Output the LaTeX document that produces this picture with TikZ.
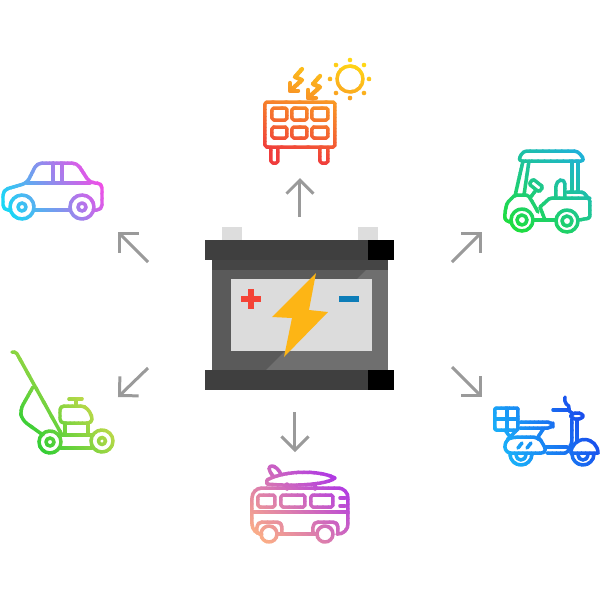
\documentclass[tikz,border=0pt]{standalone}
\usetikzlibrary{arrows.meta}
\definecolor{arrowgrey}{HTML}{9A9A9A}
\definecolor{cellgrey}{HTML}{DCDCDC}
\definecolor{postgrey}{HTML}{DDDDDD}
\definecolor{bardark}{HTML}{3F3F3F}
\definecolor{banddark}{HTML}{454545}
\definecolor{bodydark}{HTML}{5A5A5A}
\definecolor{bodylight}{HTML}{6F6F6F}
\definecolor{boltgold}{HTML}{FDB515}
\definecolor{plusred}{HTML}{F44336}
\definecolor{minusblue}{HTML}{0D7DB8}
\definecolor{solarA}{RGB}{255,215,20}
\definecolor{solarB}{RGB}{240,60,60}
\definecolor{carA}{RGB}{245,75,230}
\definecolor{carB}{RGB}{25,215,245}
\definecolor{cartA}{RGB}{30,175,225}
\definecolor{cartB}{RGB}{30,225,50}
\definecolor{mowerA}{RGB}{235,220,80}
\definecolor{mowerB}{RGB}{35,205,50}
\definecolor{scootA}{RGB}{25,60,235}
\definecolor{scootB}{RGB}{25,190,250}
\definecolor{busA}{RGB}{165,40,240}
\definecolor{busB}{RGB}{255,180,130}
\tikzset{
  px/.style={x=0.02cm,y=-0.02cm},
  ico/.style={draw=icocol,line width=0.7mm,line cap=round,line join=round,rounded corners=0.35mm},
  sharpico/.style={ico,rounded corners=0pt},
  dotfill/.style={fill=icocol,draw=none},
  flow/.style={draw=arrowgrey,line width=0.6mm,-{Straight Barb[length=2.7mm,width=5.4mm,line width=0.6mm]}}
}
% #1 drawing, #2 cx, #3 cy, #4 angle, #5 half span, #6 colour at start, #7 colour at end
\newcommand{\gradicon}[7]{%
  \foreach \bandno in {0,...,31}{%
    \pgfmathsetmacro{\bandtop}{#3-#5+\bandno*2*#5/32}%
    \pgfmathsetmacro{\bandbot}{\bandtop+2*#5/32+0.6}%
    \ifnum\bandno=0 \pgfmathsetmacro{\bandtop}{#3-#5-150}\fi
    \ifnum\bandno=31 \pgfmathsetmacro{\bandbot}{#3+#5+150}\fi
    \pgfmathsetmacro{\bandmix}{100-\bandno*100/31}%
    \colorlet{icocol}{#6!\bandmix!#7}%
    \begin{scope}
      \clip[rotate around={#4:(#2,#3)}] (#2-200,\bandtop) rectangle (#2+200,\bandbot);
      #1%
    \end{scope}
  }%
}
\newcommand{\solaricon}{%
\draw[ico] (265,102) rectangle (335,147);
\foreach \xa/\xb in {272/287,292/307,312/328}{
  \draw[ico] (\xa,108) rectangle (\xb,120);
  \draw[ico] (\xa,127) rectangle (\xb,138);
}
\draw[ico] (271,147) -- (271,163) -- (278,163) -- (278,147);
\draw[ico] (320,147) -- (320,163) -- (328,163) -- (328,147);
\draw[sharpico] (350,79) circle [radius=13];
\foreach \dx/\dy in {0/-19,14/-14,19/0,14/14,0/19,-14/14,-20/0,-14/-14}
  \fill[dotfill] (350+\dx,79+\dy) circle [radius=2.3];
\foreach \ox/\oy in {0/0,18/7}{
  \draw[sharpico,line width=0.85mm] (302+\ox,69+\oy) -- (295+\ox,77+\oy) -- (302+\ox,80+\oy) -- (291+\ox,90+\oy);
  \draw[sharpico,line width=0.85mm] (290+\ox,83+\oy) -- (290+\ox,91+\oy) -- (298+\ox,91+\oy);
}}
\newcommand{\caricon}{%
\draw[ico,rounded corners=1mm] (10,210) -- (3,210) -- (3,190) -- (27,183) -- (37,163) -- (77,163) -- (90,183) -- (102,183) -- (102,210) -- (94,210);
\draw[ico] (34,210) -- (70,210);
\draw[ico] (27,183) -- (90,183);
\draw[ico] (53,163) -- (53,183);
\draw[ico] (62,163) -- (62,183);
\draw[sharpico] (22,207) circle [radius=12];
\draw[sharpico] (22,207) circle [radius=4];
\draw[sharpico] (82,207) circle [radius=12];
\draw[sharpico] (82,207) circle [radius=4];
}
\newcommand{\carticon}{%
\draw[ico,rounded corners=0.8mm] (518,161) -- (523,151) -- (578,151) -- (585,161) -- cycle;
\draw[ico] (523,161) -- (515,196);
\draw[ico] (529,161) -- (524,195);
\draw[ico] (572,161) -- (572,192);
\draw[ico] (578,161) -- (578,192);
\draw[ico,rounded corners=0.3mm] (533,179) -- (543,187) -- (539,192) -- (529,184) -- cycle;
\draw[ico] (536,190) -- (530,198);
\draw[ico,rounded corners=1mm] (556,198) -- (556,181) -- (565,179) -- (565,198);
\draw[ico] (567,192) -- (583,192) -- (590,200) -- (590,218) -- (579,220);
\draw[ico] (540,207) -- (550,198) -- (590,198);
\draw[ico] (538,212) -- (533,203) -- (528,195) -- (515,195) -- (507,203) -- (505,212) -- (505,220) -- (510,222);
\draw[ico] (534,220) -- (555,220);
\draw[ico] (540,207) -- (545,220);
\draw[sharpico] (522,220) circle [radius=11];
\draw[sharpico] (522,220) circle [radius=5];
\draw[sharpico] (567,221) circle [radius=11];
\draw[sharpico] (567,221) circle [radius=5];
}
\newcommand{\mowericon}{%
\draw[ico] (12,352) -- (16,352) -- (62,435);
\draw[ico,rounded corners=1.2mm] (33,387) -- (20,410) -- (22,420) -- (43,435);
\draw[ico] (62,435) -- (92,435);
\draw[ico] (61,448) -- (92,448);
\draw[ico,rounded corners=0.8mm] (60,423) -- (60,406) -- (85,406) -- (92,415) -- (92,423) -- cycle;
\draw[ico] (65,423) -- (65,435);
\draw[ico] (88,423) -- (88,435);
\draw[ico] (76,399) -- (76,406);
\draw[ico] (69,399) -- (82,399);
\draw[sharpico] (50,442) circle [radius=11];
\draw[sharpico] (50,442) circle [radius=4];
\draw[sharpico] (102,441) circle [radius=11];
\draw[sharpico] (102,441) circle [radius=3.5];
}
\newcommand{\scootericon}{%
\draw[ico,rounded corners=0.2mm] (495,408) rectangle (518,430);
\draw[ico] (507,408) -- (507,430);
\draw[ico] (495,419) -- (518,419);
\draw[ico] (505,430) -- (510,437) -- (517,430);
\draw[ico,rounded corners=1mm] (520,422) -- (553,422) -- (553,428) -- (520,428);
\draw[ico,rounded corners=1.2mm] (505,453) -- (505,440) -- (513,437) -- (538,437) -- (543,443) -- (547,453) -- cycle;
\draw[ico] (518,448) -- (522,443);
\draw[ico] (527,448) -- (531,443);
\draw[ico] (538,437) -- (544,428);
\draw[ico] (547,453) -- (567,453) -- (572,442) -- (572,419);
\draw[ico] (546,447) -- (567,447);
\draw[ico] (577,419) -- (577,441);
\draw[ico] (553,410) -- (568,410);
\draw[ico,rounded corners=0.8mm] (571,413) -- (583,413) -- (583,419) -- (571,419) -- cycle;
\draw[ico] (565,397) -- (565,403) -- (570,407) -- (568,410) -- (572,413);
\draw[sharpico] (571,453) arc [start angle=180,end angle=360,radius=13.5] -- cycle;
\draw[sharpico] (572,454) arc [start angle=180,end angle=0,radius=11];
\draw[sharpico] (578,455) arc [start angle=180,end angle=0,radius=5];
\draw[sharpico] (510,454) arc [start angle=180,end angle=0,radius=11];
\draw[sharpico] (516,455) arc [start angle=180,end angle=0,radius=5];
}
\newcommand{\busicon}{%
\draw[sharpico] (267,480) .. controls (285,470) and (320,470) .. (335,478) .. controls (325,486) and (285,486) .. (267,484) -- cycle;
\draw[sharpico] (273,476) .. controls (268,470) and (268,466) .. (272,466) .. controls (275,466) and (279,470) .. (281,474);
\draw[ico] (287,484) -- (287,489);
\draw[ico] (315,484) -- (315,489);
\draw[ico,rounded corners=2mm] (259,534) -- (252,534) -- (252,488) -- (348,488) -- (348,534) -- (337,534);
\draw[ico] (252,512) -- (348,512);
\draw[ico] (258,495) rectangle (275,507);
\draw[ico] (281,495) rectangle (305,507);
\draw[ico] (311,495) rectangle (333,507);
\draw[ico] (340,498) -- (345,498);
\draw[ico] (340,506) -- (345,506);
\draw[ico,rounded corners=1mm] (257,533) -- (257,522) -- (282,522) -- (282,533);
\draw[ico,rounded corners=1mm] (313,533) -- (313,522) -- (338,522) -- (338,533);
\draw[ico] (277,534) -- (317,534);
\draw[sharpico] (269,534) circle [radius=8];
\draw[sharpico] (325,534) circle [radius=8];
}
\begin{document}
\begin{tikzpicture}[px]
\useasboundingbox (0,0) rectangle (600,600);
\fill[white] (0,0) rectangle (600,600);
% battery
\fill[postgrey] (222,227) rectangle (242,240);
\fill[postgrey] (358,227) rectangle (378,240);
\fill[bodydark] (212,260) rectangle (388,370);
\fill[bodylight] (266,370) -- (366,270) -- (388,270) -- (388,370) -- cycle;
\fill[banddark] (212,260) rectangle (388,270);
\fill[cellgrey] (231,279) rectangle (372,351);
\fill[bardark] (205,240) rectangle (368,260);
\fill[black] (368,240) rectangle (394,260);
\fill[bardark] (205,370) rectangle (368,390);
\fill[black] (368,370) rectangle (394,390);
\fill[boltgold] (316,273) -- (309,310) -- (328,312) -- (284,357) -- (292,318) -- (272,317) -- cycle;
\fill[plusred] (241,296) rectangle (261,302);
\fill[plusred] (248,289) rectangle (254,309);
\fill[minusblue] (339,296) rectangle (359,302);
% icons with a gradient along the stroke
\gradicon{\solaricon}{315}{108}{-15}{55}{solarA}{solarB}
\gradicon{\caricon}{52}{190}{-60}{50}{carA}{carB}
\gradicon{\carticon}{547}{192}{-35}{58}{cartA}{cartB}
\gradicon{\mowericon}{65}{415}{-50}{50}{mowerA}{mowerB}
\gradicon{\scootericon}{546}{433}{-60}{58}{scootA}{scootB}
\gradicon{\busicon}{299}{504}{-40}{58}{busA}{busB}
% arrows
\coordinate (batN) at (300,217);
\coordinate (solarS) at (300,178);
\coordinate (batNW) at (148,262);
\coordinate (carSE) at (118,232);
\coordinate (batNE) at (452,262);
\coordinate (cartSW) at (482,232);
\coordinate (batSW) at (148,368);
\coordinate (mowerNE) at (118,397);
\coordinate (batSE) at (452,367);
\coordinate (scooterNW) at (482,397);
\coordinate (batS) at (295,412);
\coordinate (busN) at (295,452);
\draw[flow] (batN) -- (solarS);
\draw[flow] (batNW) -- (carSE);
\draw[flow] (batNE) -- (cartSW);
\draw[flow] (batSW) -- (mowerNE);
\draw[flow] (batSE) -- (scooterNW);
\draw[flow] (batS) -- (busN);
\end{tikzpicture}
\end{document}
